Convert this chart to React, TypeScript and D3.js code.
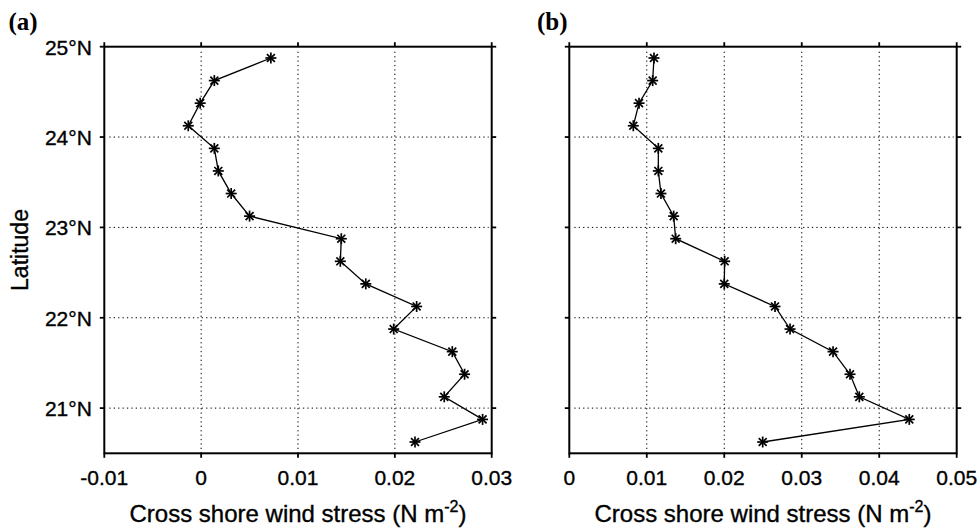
import React from "react";
import * as d3 from "d3";

const latitudes = [24.875, 24.625, 24.375, 24.125, 23.875, 23.625, 23.375, 23.125, 22.875, 22.625, 22.375, 22.125, 21.875, 21.625, 21.375, 21.125, 20.875, 20.625];
const stressA = [0.0072, 0.00136, -0.0001, -0.00133, 0.00136, 0.00177, 0.0031, 0.005, 0.01447, 0.01437, 0.017, 0.02225, 0.01988, 0.02593, 0.0272, 0.0251, 0.02906, 0.02208];
const stressB = [0.01093, 0.01076, 0.009, 0.00826, 0.01149, 0.01149, 0.01183, 0.01347, 0.01373, 0.02005, 0.02, 0.02655, 0.02849, 0.03404, 0.03623, 0.03743, 0.04388, 0.02496];
const xTicksA = [-0.01, 0, 0.01, 0.02, 0.03];
const xTicksB = [0, 0.01, 0.02, 0.03, 0.04, 0.05];
const yTicks = [25, 24, 23, 22, 21];
const xDomainA: [number, number] = [-0.01, 0.03];
const xDomainB: [number, number] = [0, 0.05];
const yDomain: [number, number] = [20.5, 25];

const TOP = 46.7;
const BOTTOM = 453.3;
const W = 387.4;

const sans = "'Liberation Sans', Arial, Helvetica, sans-serif";
const serif = "'Liberation Serif', 'Times New Roman', serif";
const TEXT_STROKE = 0.35;

function fmtX(v: number) {
  if (v === 0) return "0";
  return d3.format(".2f")(v).replace("\u2212", "-");
}

function Star({ x, y }: { x: number; y: number }) {
  const r = 5.5;
  const d = r * 0.72;
  return (
    <g stroke="#000" strokeWidth={1.7}>
      <line x1={x - r} y1={y} x2={x + r} y2={y} />
      <line x1={x} y1={y - r} x2={x} y2={y + r} />
      <line x1={x - d} y1={y - d} x2={x + d} y2={y + d} />
      <line x1={x - d} y1={y + d} x2={x + d} y2={y - d} />
    </g>
  );
}

function Panel({
  left,
  values,
  xTicks,
  xDomain,
  label,
  labelX,
  showYLabels,
}: {
  left: number;
  values: number[];
  xTicks: number[];
  xDomain: [number, number];
  label: string;
  labelX: number;
  showYLabels: boolean;
}) {
  const x = d3.scaleLinear().domain(xDomain).range([left, left + W]);
  const y = d3.scaleLinear().domain(yDomain).range([BOTTOM, TOP]);
  const line = d3
    .line<number>()
    .x((d) => x(d))
    .y((_, i) => y(latitudes[i]));
  const right = left + W;
  const tick = 4.5;
  const cx = left + W / 2;
  return (
    <g>
      {xTicks.slice(1, -1).map((t) => (
        <line
          key={"gx" + t}
          x1={x(t)}
          x2={x(t)}
          y1={TOP + 5}
          y2={BOTTOM}
          stroke="#000"
          strokeWidth={1}
          strokeDasharray="1.3,3.1"
        />
      ))}
      {yTicks.slice(1).map((t) => (
        <line
          key={"gy" + t}
          x1={left + 5}
          x2={right - 3}
          y1={y(t)}
          y2={y(t)}
          stroke="#000"
          strokeWidth={1}
          strokeDasharray="1.3,3.1"
        />
      ))}
      <rect x={left} y={TOP} width={W} height={BOTTOM - TOP} fill="none" stroke="#000" strokeWidth={2} />
      {xTicks.map((t) => (
        <g key={"tx" + t} stroke="#000" strokeWidth={1.8}>
          <line x1={x(t)} x2={x(t)} y1={TOP} y2={TOP - tick} />
          <line x1={x(t)} x2={x(t)} y1={BOTTOM} y2={BOTTOM + tick} />
        </g>
      ))}
      {yTicks.map((t) => (
        <g key={"ty" + t} stroke="#000" strokeWidth={1.8}>
          <line x1={left} x2={left - tick} y1={y(t)} y2={y(t)} />
          <line x1={right} x2={right + tick} y1={y(t)} y2={y(t)} />
        </g>
      ))}
      {xTicks.map((t) => (
        <text
          key={"lx" + t}
          x={x(t)}
          y={484.5}
          textAnchor="middle"
          fontFamily={sans}
          fontSize={21}
          fill="#000"
          stroke="#000"
          strokeWidth={TEXT_STROKE}
        >
          {fmtX(t)}
        </text>
      ))}
      {showYLabels &&
        yTicks.map((t) => (
          <text
            key={"ly" + t}
            x={left - 12.5}
            y={y(t)}
            dy="0.38em"
            textAnchor="end"
            fontFamily={sans}
            fontSize={21}
            fill="#000"
            stroke="#000"
            strokeWidth={TEXT_STROKE}
          >
            {t + "°N"}
          </text>
        ))}
      <path d={line(values) || ""} fill="none" stroke="#000" strokeWidth={1.3} />
      {values.map((v, i) => (
        <Star key={"s" + i} x={x(v)} y={y(latitudes[i])} />
      ))}
      <text
        x={cx}
        y={521.5}
        textAnchor="middle"
        fontFamily={sans}
        fontSize={24}
        fill="#000"
        stroke="#000"
        strokeWidth={TEXT_STROKE}
      >
        Cross shore wind stress (N m
        <tspan dy={-10} fontSize={16}>-2</tspan>
        <tspan dy={10}>)</tspan>
      </text>
      <text x={labelX} y={29.5} fontFamily={serif} fontWeight="bold" fontSize={25} fill="#000">
        {label}
      </text>
    </g>
  );
}

export default function App() {
  return (
    <svg
      width={980}
      height={528}
      style={{ position: "absolute", left: 0, top: 0, background: "#fff" }}
    >
      <rect width={980} height={528} fill="#fff" />
      <Panel left={104.3} values={stressA} xTicks={xTicksA} xDomain={xDomainA} label="(a)" labelX={8.5} showYLabels={true} />
      <Panel left={569.3} values={stressB} xTicks={xTicksB} xDomain={xDomainB} label="(b)" labelX={537} showYLabels={false} />
      <text
        transform={`translate(27.5,${(TOP + BOTTOM) / 2}) rotate(-90)`}
        textAnchor="middle"
        fontFamily={sans}
        fontSize={23}
        fill="#000"
        stroke="#000"
        strokeWidth={TEXT_STROKE}
      >
        Latitude
      </text>
    </svg>
  );
}
